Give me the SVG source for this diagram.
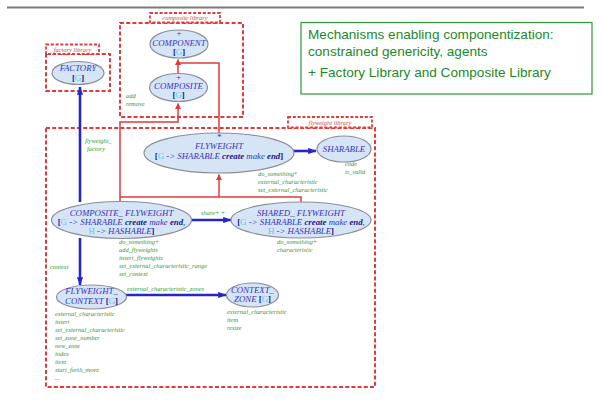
<svg xmlns="http://www.w3.org/2000/svg" width="602" height="401" viewBox="0 0 602 401">
  <style>
    .lib { fill: none; stroke: #e23a3a; stroke-width: 2; stroke-dasharray: 4 2.2; }
    .tab { fill: #ffffff; stroke: #e23a3a; stroke-width: 1.8; stroke-dasharray: 3 1.8; }
    .tabtxt { font-family: "Liberation Serif", serif; font-style: italic; font-size: 6.4px; fill: #d04848; text-anchor: middle; }
    .cls { fill: #d6e5f6; stroke: #8a8e9a; stroke-width: 1.2; }
    .name { font-family: "Liberation Serif", serif; font-style: italic; font-size: 8.8px; fill: #3434c4; text-anchor: middle; }
    .kw { font-weight: bold; fill: #18189a; }
    .gen { fill: #58c8f0; font-style: normal; }
    .br { font-weight: bold; fill: #18189a; font-style: normal; }
    .feat { font-family: "Liberation Serif", serif; font-style: italic; font-size: 6.4px; fill: #2e9a2e; }
    .lbl { font-family: "Liberation Serif", serif; font-style: italic; font-size: 6.4px; fill: #2e9a2e; }
    .inh { fill: none; stroke: #e23a3a; stroke-width: 1.5; }
    .cli { fill: none; stroke: #2626c8; stroke-width: 2.6; }
    .note { font-family: "Liberation Sans", Arial, sans-serif; font-size: 13.6px; fill: #1b8a2b; }
  </style>
  <defs>
    <marker id="redHead" viewBox="0 0 6 6" refX="5.5" refY="3" markerWidth="4" markerHeight="4" orient="auto">
      <path d="M0,0 L6,3 L0,6 Z" fill="#e23a3a"/>
    </marker>
    <marker id="blueHead" viewBox="0 0 8 6" refX="7.5" refY="3" markerWidth="3.2" markerHeight="2.6" orient="auto">
      <path d="M0,0 L8,3 L0,6 Z" fill="#2626c8"/>
    </marker>
  </defs>

  <rect width="602" height="401" fill="#ffffff"/>

  <!-- slide header rule -->
  <line x1="7" y1="7.5" x2="584" y2="7.5" stroke="#7a7a7a" stroke-width="2"/>

  <!-- note box -->
  <g id="note">
    <rect x="301" y="22.5" width="291" height="71.5" fill="#ffffff" stroke="#2a9a3a" stroke-width="1.2"/>
    <text class="note" x="308" y="39">Mechanisms enabling componentization:</text>
    <text class="note" x="308" y="56">constrained genericity, agents</text>
    <text class="note" x="308" y="77">+ Factory Library and Composite Library</text>
  </g>

  <!-- cluster frames -->
  <g id="factory-library">
    <rect class="lib" x="46" y="54" width="64" height="37"/>
    <rect class="tab" x="46" y="44.5" width="53" height="9.5"/>
    <text class="tabtxt" x="72.5" y="51.5">factory library</text>
  </g>
  <g id="composite-library">
    <rect class="lib" x="120" y="23" width="123" height="94"/>
    <rect class="tab" x="150" y="13" width="70" height="9.5"/>
    <text class="tabtxt" x="185" y="20">composite library</text>
  </g>
  <g id="flyweight-library">
    <rect class="lib" x="46" y="128" width="329" height="259"/>
    <rect class="tab" x="288" y="117" width="84" height="10.5"/>
    <text class="tabtxt" x="330" y="124.5">flyweight library</text>
  </g>

  <!-- connectors -->
  <g id="connectors">
    <!-- inheritance -->
    <path class="inh" d="M178,73 L178,59.5" marker-end="url(#redHead)"/>
    <path class="inh" d="M219,133 L219,63 L178,63" />
    <path class="inh" d="M120,202 L120,122 L178,122 L178,103.5" marker-end="url(#redHead)"/>
    <path class="inh" d="M120,197 L301,197 L301,202"/>
    <path class="inh" d="M219,197 L219,174.5" marker-end="url(#redHead)"/>
    <!-- client -->
    <path class="cli" d="M80,202 L80,87" marker-end="url(#blueHead)"/>
    <path class="cli" d="M293,151 L316,151" marker-end="url(#blueHead)"/>
    <path class="cli" d="M191,220 L231,220" marker-end="url(#blueHead)"/>
    <path class="cli" d="M80,238 L80,285" marker-end="url(#blueHead)"/>
    <path class="cli" d="M126,295 L226,295" marker-end="url(#blueHead)"/>
    <text class="lbl" x="85" y="143">flyweight_</text>
    <text class="lbl" x="87" y="151">factory</text>
    <text class="lbl" x="201" y="215">share+ +</text>
    <text class="lbl" x="50" y="269">context</text>
    <text class="lbl" x="127" y="291">external_characteristic_zones</text>
  </g>

  <!-- classes -->
  <g id="factory">
    <ellipse class="cls" cx="78" cy="73" rx="26" ry="11.5"/>
    <text class="name" x="78" y="71">FACTORY</text>
    <text class="name" x="78" y="80.5"><tspan class="br">[</tspan><tspan class="gen">G</tspan><tspan class="br">]</tspan></text>
  </g>

  <g id="component">
    <ellipse class="cls" cx="179" cy="44" rx="29" ry="14"/>
    <text class="name" x="179" y="36">+</text>
    <text class="name" x="179" y="45.5">COMPONENT</text>
    <text class="name" x="179" y="54.5"><tspan class="br">[</tspan><tspan class="gen">G</tspan><tspan class="br">]</tspan></text>
  </g>

  <g id="composite">
    <ellipse class="cls" cx="178.5" cy="87.5" rx="29" ry="14"/>
    <text class="name" x="178.5" y="79.5">+</text>
    <text class="name" x="178.5" y="89">COMPOSITE</text>
    <text class="name" x="178.5" y="98"><tspan class="br">[</tspan><tspan class="gen">G</tspan><tspan class="br">]</tspan></text>
    <text class="feat" x="126" y="98">add</text>
    <text class="feat" x="126" y="105.5">remove</text>
  </g>

  <g id="flyweight">
    <ellipse class="cls" cx="219" cy="153" rx="75" ry="20"/>
    <text class="name" x="219" y="139.5">*</text>
    <text class="name" x="219" y="149">FLYWEIGHT</text>
    <text class="name" x="219" y="159"><tspan class="br">[</tspan><tspan class="gen">G</tspan> -&gt; SHARABLE <tspan class="kw">create</tspan> make <tspan class="kw">end</tspan><tspan class="br">]</tspan></text>
    <text class="feat" x="258" y="176">do_something*</text>
    <text class="feat" x="258" y="184">external_characteristic</text>
    <text class="feat" x="258" y="192">set_external_characteristic</text>
  </g>

  <g id="sharable">
    <ellipse class="cls" cx="344" cy="149" rx="27" ry="13"/>
    <text class="name" x="344" y="151.5">SHARABLE</text>
    <text class="feat" x="345" y="166">code</text>
    <text class="feat" x="345" y="174">is_valid</text>
  </g>

  <g id="composite-flyweight">
    <ellipse class="cls" cx="121.5" cy="220" rx="70" ry="18.5"/>
    <text class="name" x="121.5" y="216">COMPOSITE_ FLYWEIGHT</text>
    <text class="name" x="121.5" y="225"><tspan class="br">[</tspan><tspan class="gen">G</tspan> -&gt; SHARABLE <tspan class="kw">create</tspan> make <tspan class="kw">end</tspan>,</text>
    <text class="name" x="121.5" y="234"><tspan class="gen">H</tspan> -&gt; HASHABLE<tspan class="br">]</tspan></text>
    <text class="feat" x="119" y="244">do_something+</text>
    <text class="feat" x="119" y="252">add_flyweights</text>
    <text class="feat" x="119" y="260">insert_flyweights</text>
    <text class="feat" x="119" y="268">set_external_characteristic_range</text>
    <text class="feat" x="119" y="276">set_context</text>
  </g>

  <g id="shared-flyweight">
    <ellipse class="cls" cx="301" cy="220" rx="70" ry="18"/>
    <text class="name" x="301" y="216">SHARED_ FLYWEIGHT</text>
    <text class="name" x="301" y="225"><tspan class="br">[</tspan><tspan class="gen">G</tspan> -&gt; SHARABLE <tspan class="kw">create</tspan> make <tspan class="kw">end</tspan>,</text>
    <text class="name" x="301" y="234"><tspan class="gen">H</tspan> -&gt; HASHABLE<tspan class="br">]</tspan></text>
    <text class="feat" x="277" y="244">do_something+</text>
    <text class="feat" x="277" y="252">characteristic</text>
  </g>

  <g id="flyweight-context">
    <ellipse class="cls" cx="91.5" cy="297" rx="35" ry="12"/>
    <text class="name" x="91.5" y="294">FLYWEIGHT_</text>
    <text class="name" x="91.5" y="303.5">CONTEXT <tspan class="br">[</tspan><tspan class="gen">G</tspan><tspan class="br">]</tspan></text>
    <text class="feat" x="55" y="316">external_characteristic</text>
    <text class="feat" x="55" y="324">insert</text>
    <text class="feat" x="55" y="332">set_external_characteristic</text>
    <text class="feat" x="55" y="340">set_zone_number</text>
    <text class="feat" x="55" y="348">new_zone</text>
    <text class="feat" x="55" y="356">index</text>
    <text class="feat" x="55" y="364">item</text>
    <text class="feat" x="55" y="372">start_forth_move</text>
    <text class="feat" x="55" y="380">...</text>
  </g>

  <g id="context-zone">
    <ellipse class="cls" cx="252.5" cy="295" rx="26" ry="12"/>
    <text class="name" x="252.5" y="292.5">CONTEXT_</text>
    <text class="name" x="252.5" y="302">ZONE <tspan class="br">[</tspan><tspan class="gen">G</tspan><tspan class="br">]</tspan></text>
    <text class="feat" x="227" y="314">external_characteristic</text>
    <text class="feat" x="227" y="322">item</text>
    <text class="feat" x="227" y="330">resize</text>
  </g>
</svg>
